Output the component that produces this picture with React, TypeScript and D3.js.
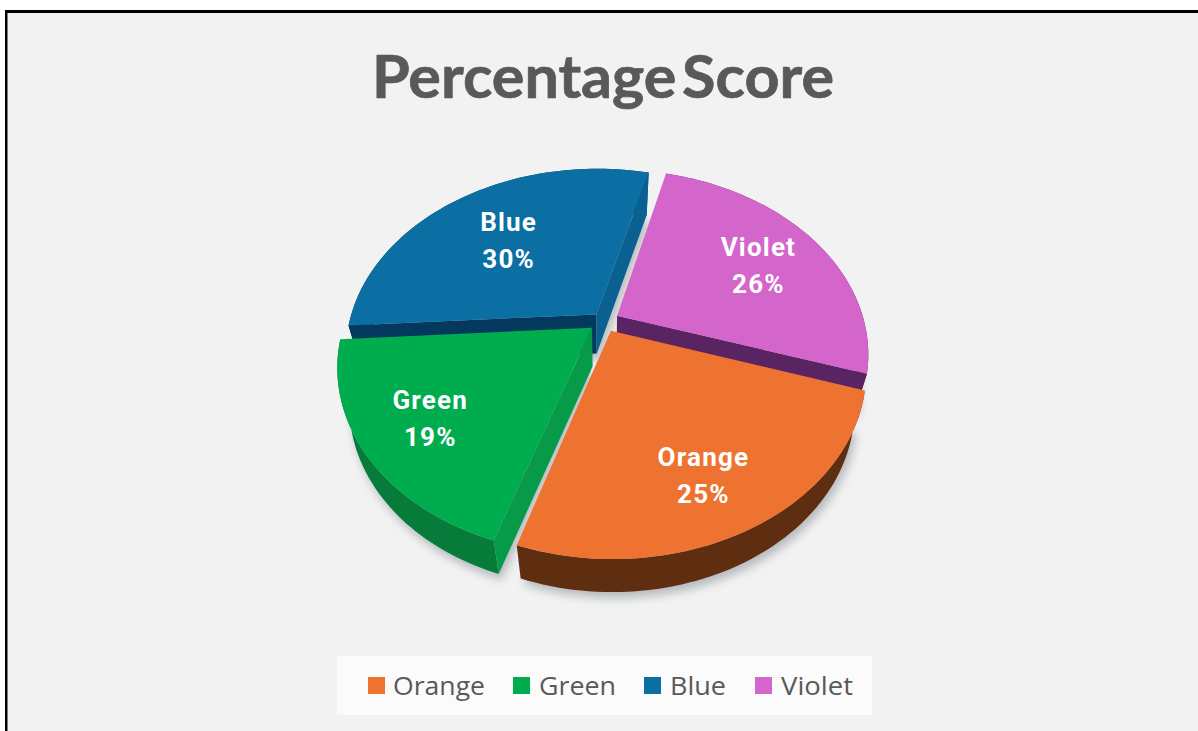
import React from "react";
import * as d3 from "d3";

const categories = ["Orange", "Green", "Blue", "Violet"];
const scores = [25, 19, 30, 26];
const title = "Percentage Score";

const faceColors = ["#ee7230", "#00ad4e", "#0b6fa3", "#d466cb"];
const rimColors = ["#5f2e10", "#077c3a", "#04466c", "#5a2462"];
const startCutColors = ["#5f2e10", "#079a48", "#03395c", "#5a2462"];
const endCutColors = ["#5f2e10", "#077c3a", "#0a6090", "#5a2462"];

const WIDTH = 1198;
const HEIGHT = 731;

// Pie geometry: a disc seen in perspective, with slices pulled away from the centre.
const CX = 604;
const CY = 321;
const RADIUS = 247;
const TILT = 0.719;
const PERSPECTIVE = 0.00082;
const DEPTH = 39;
const FIRST_SLICE_ANGLE = (108 * Math.PI) / 180;
const pullOut = [15, 15, 12, 15];
const labelReach = [0.73, 0.72, 0.62, 0.69];
const labelNudgeX = [-4, -5, 0, 3];
const labelNudgeY = [8, 3, 2, 4];
const paintOrder = [2, 3, 1, 0];

function project(u: number, v: number, z = 0): [number, number] {
  const w = 1 - PERSPECTIVE * v;
  return [CX + (u / w) * (1 - z * 0.045), CY + ((TILT * v) / w) * (1 - z * 0.025) + z * DEPTH];
}

const toPath = d3.line<[number, number]>();

const pieLayout = d3
  .pie<number>()
  .sort(null)
  .startAngle(FIRST_SLICE_ANGLE)
  .endAngle(FIRST_SLICE_ANGLE + Math.PI * 2);

const slices = pieLayout(scores).map((arc, i) => {
  const a0 = arc.startAngle - Math.PI / 2;
  const a1 = arc.endAngle - Math.PI / 2;
  const mid = (a0 + a1) / 2;
  const ox = pullOut[i] * Math.cos(mid);
  const oy = pullOut[i] * Math.sin(mid);
  const steps = d3.range(61).map((t) => a0 + ((a1 - a0) * t) / 60);
  const rim = (z: number) =>
    steps.map((a) => project(ox + RADIUS * Math.cos(a), oy + RADIUS * Math.sin(a), z));
  const top = rim(0);
  const bottom = rim(1);
  const apexTop = project(ox, oy, 0);
  const apexBottom = project(ox, oy, 1);
  const reach = labelReach[i] * RADIUS;
  const anchor = project(ox + reach * Math.cos(mid), oy + reach * Math.sin(mid));
  return {
    name: categories[i],
    value: scores[i],
    index: i,
    face: toPath([apexTop, ...top])! + "Z",
    floor: toPath([apexBottom, ...bottom])! + "Z",
    outer: toPath([...top, ...bottom.slice().reverse()])! + "Z",
    startCut: toPath([apexTop, top[0], bottom[0], apexBottom])! + "Z",
    endCut: toPath([apexTop, top[60], bottom[60], apexBottom])! + "Z",
    label: [anchor[0] + labelNudgeX[i], anchor[1] + labelNudgeY[i]],
  };
});

const legendSwatchX = [368, 513, 644, 755];
const legendTextX = [393, 539, 670, 781];
const legendTextWidth = [92, 77, 56, 72];

const labelFont = "Roboto, sans-serif";
const titleFont = "Lato, sans-serif";

export default function App() {
  const ordered = paintOrder.map((i) => slices[i]);
  return (
    <svg
      width={WIDTH}
      height={HEIGHT}
      viewBox={`0 0 ${WIDTH} ${HEIGHT}`}
      style={{ position: "fixed", left: 0, top: 0, display: "block" }}
    >
      <defs>
        <filter id="pie-shadow" x="-20%" y="-20%" width="140%" height="140%">
          <feGaussianBlur stdDeviation="5" />
        </filter>
      </defs>
      <rect width={WIDTH} height={HEIGHT} fill="#ffffff" />
      <rect x={5} y={10} width={WIDTH - 5} height={HEIGHT - 10} fill="#000000" />
      <rect x={7.5} y={13} width={WIDTH - 7.5} height={HEIGHT - 13} fill="#f2f2f2" />

      <text
        x={603}
        y={98}
        textAnchor="middle"
        fontFamily={titleFont}
        fontWeight={700}
        fontSize={60}
        fill="#595959"
        stroke="#595959"
        strokeWidth={0.7}
        wordSpacing={-9}
        textLength={462}
        lengthAdjust="spacingAndGlyphs"
      >
        {title}
      </text>

      <g filter="url(#pie-shadow)" opacity={0.32} transform="translate(3,6)">
        {ordered.map((s) => (
          <path key={s.name} d={s.floor} fill="#3a4650" />
        ))}
      </g>

      {ordered.map((s) => (
        <g key={s.name}>
          <path d={s.outer} fill={rimColors[s.index]} />
          {s.name === "Green" && <path d={s.startCut} fill={startCutColors[s.index]} />}
          {s.name === "Blue" && (
            <>
              <path d={s.startCut} fill={startCutColors[s.index]} />
              <path d={s.endCut} fill={endCutColors[s.index]} />
            </>
          )}
          {s.name === "Violet" && <path d={s.endCut} fill={endCutColors[s.index]} />}
          <path d={s.face} fill={faceColors[s.index]} />
        </g>
      ))}

      {slices.map((s) => (
        <text
          key={s.name}
          x={s.label[0]}
          textAnchor="middle"
          fontFamily={labelFont}
          fontWeight={700}
          fontSize={26}
          letterSpacing={1.2}
          fill="#ffffff"
        >
          <tspan x={s.label[0]} y={s.label[1] - 9}>
            {s.name}
          </tspan>
          <tspan x={s.label[0]} y={s.label[1] + 28}>
            {`${s.value}%`}
          </tspan>
        </text>
      ))}

      <rect x={337} y={656} width={535} height={59} fill="#fbfbfb" />
      {categories.map((c, i) => (
        <g key={c}>
          <rect x={legendSwatchX[i]} y={677} width={17} height={17} fill={faceColors[i]} />
          <text
            x={legendTextX[i]}
            y={695}
            fontFamily="'Open Sans', sans-serif"
            fontSize={25}
            fill="#595959"
            textLength={legendTextWidth[i]}
            lengthAdjust="spacingAndGlyphs"
          >
            {c}
          </text>
        </g>
      ))}
    </svg>
  );
}
